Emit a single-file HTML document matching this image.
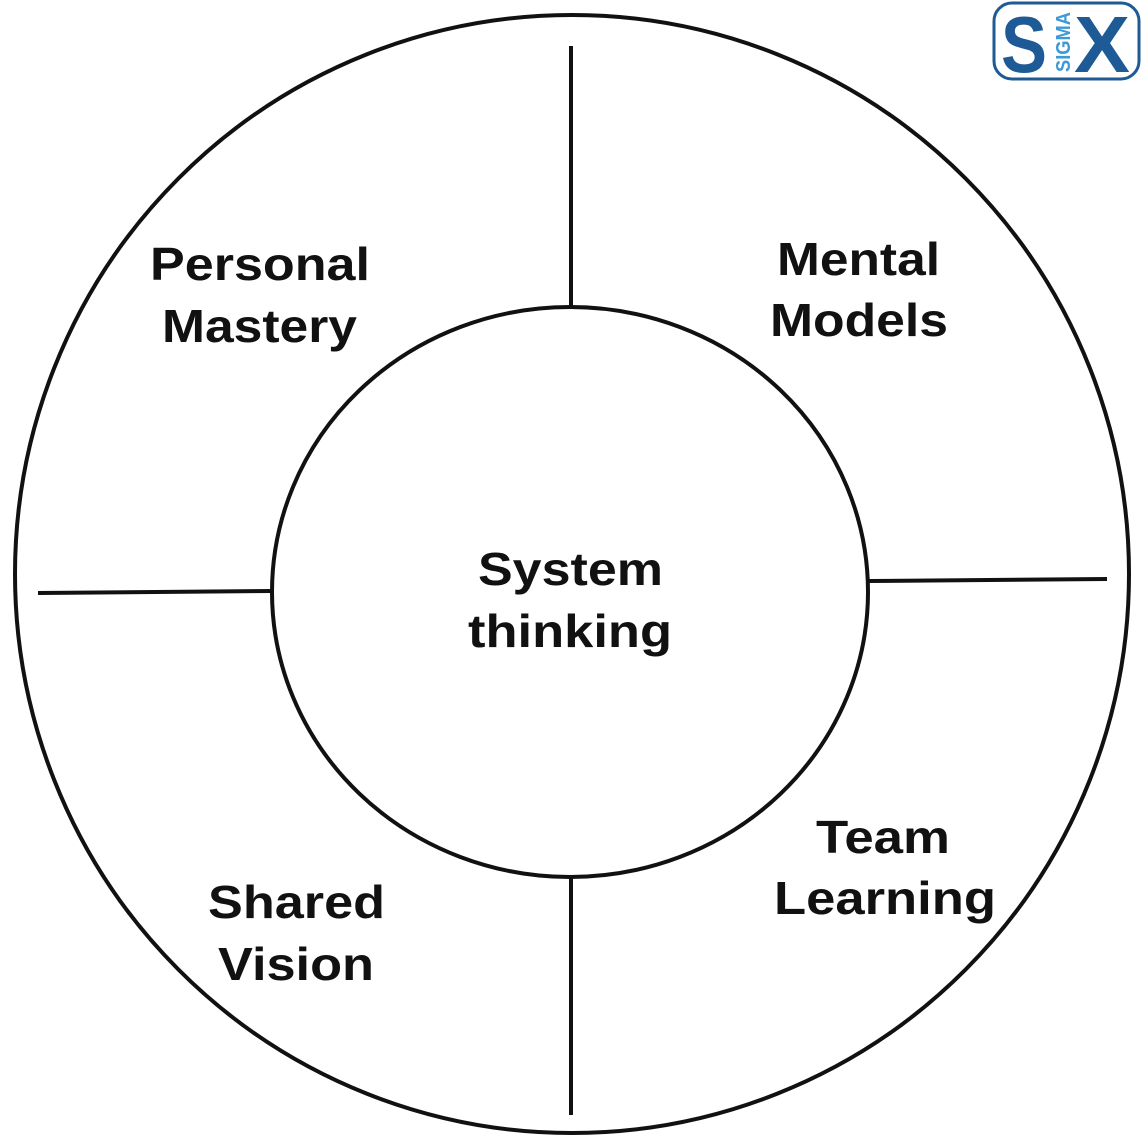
<!DOCTYPE html>
<html><head><style>html,body{margin:0;padding:0;background:#fff}svg{display:block}</style></head>
<body>
<svg width="1142" height="1144" viewBox="0 0 1142 1144" xmlns="http://www.w3.org/2000/svg">
<rect width="1142" height="1144" fill="#fff"/>
<g fill="none" stroke="#111" stroke-width="4">
<ellipse cx="572" cy="574" rx="557" ry="559"/>
<ellipse cx="570" cy="592" rx="298" ry="285"/>
<line x1="571" y1="46" x2="571" y2="307"/>
<line x1="38" y1="593" x2="272" y2="591"/>
<line x1="869" y1="581" x2="1107" y2="579"/>
<line x1="571" y1="878" x2="571" y2="1115"/>
</g>
<g font-family="Liberation Sans, Arial, sans-serif" font-weight="bold" font-size="46" fill="#111" lengthAdjust="spacingAndGlyphs">
<text x="150" y="280" textLength="220" lengthAdjust="spacingAndGlyphs">Personal</text>
<text x="162" y="342" textLength="195" lengthAdjust="spacingAndGlyphs">Mastery</text>
<text x="777" y="275" textLength="163" lengthAdjust="spacingAndGlyphs">Mental</text>
<text x="770" y="336" textLength="178" lengthAdjust="spacingAndGlyphs">Models</text>
<text x="478" y="585" textLength="185" lengthAdjust="spacingAndGlyphs">System</text>
<text x="468" y="647" textLength="204" lengthAdjust="spacingAndGlyphs">thinking</text>
<text x="816" y="853" textLength="134" lengthAdjust="spacingAndGlyphs">Team</text>
<text x="774" y="914" textLength="222" lengthAdjust="spacingAndGlyphs">Learning</text>
<text x="208" y="918" textLength="177" lengthAdjust="spacingAndGlyphs">Shared</text>
<text x="218" y="980" textLength="156" lengthAdjust="spacingAndGlyphs">Vision</text>
</g>
<rect x="994" y="3" width="145" height="76" rx="18" fill="#fff" stroke="#1e5a96" stroke-width="3"/>
<g font-family="Liberation Sans, Arial, sans-serif" font-weight="bold" fill="#1e5a96">
<text x="1001" y="72" font-size="80" textLength="46" lengthAdjust="spacingAndGlyphs">S</text>
<text x="1074" y="72" font-size="80" textLength="56" lengthAdjust="spacingAndGlyphs">X</text>
<text transform="translate(1070,72) rotate(-90)" font-size="20" fill="#3d9ad6" textLength="60" lengthAdjust="spacingAndGlyphs">SIGMA</text>
</g>
</svg>
</body></html>
